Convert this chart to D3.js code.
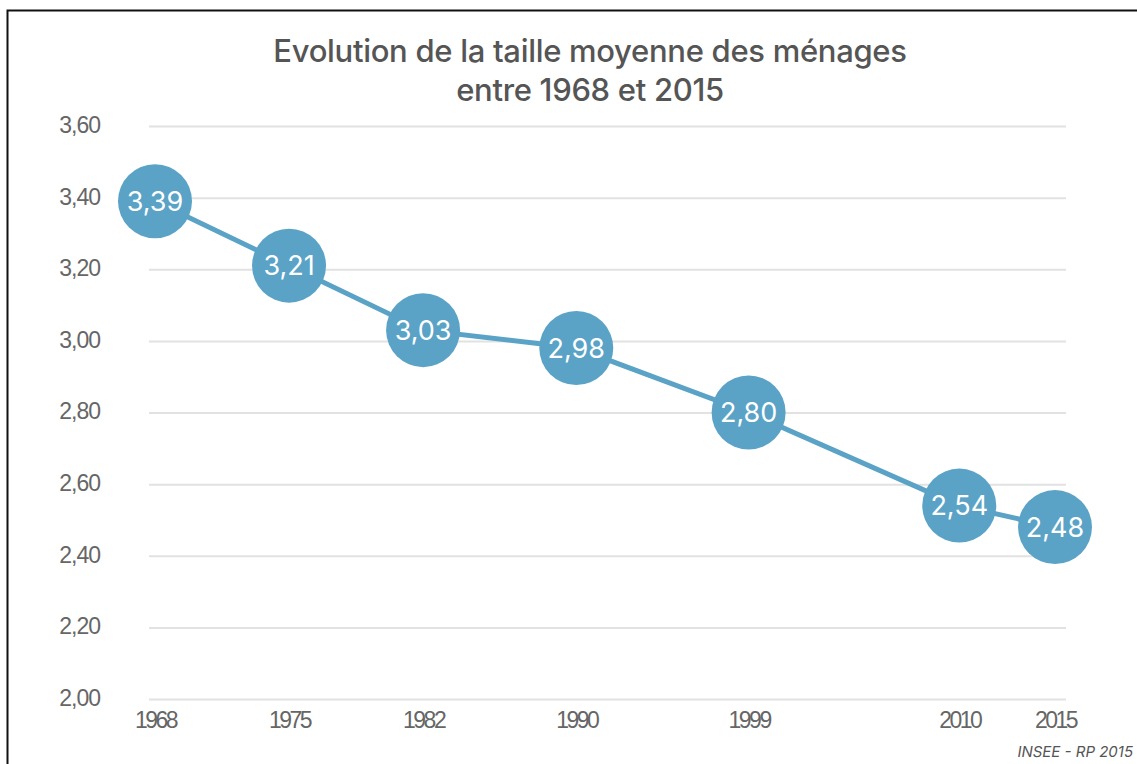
<!DOCTYPE html>
<html>
<head>
<meta charset="utf-8">
<script src="https://cdn.jsdelivr.net/npm/d3@7"></script>
<style>
  body { margin: 0; background: #fff; }
  svg { display: block; font-family: "Inter", "Roboto", sans-serif; }
</style>
</head>
<body>
<svg id="chart" width="1137" height="764"></svg>
<script>
// data
var years = [1968, 1975, 1982, 1990, 1999, 2010, 2015];
var sizes = [3.39, 3.21, 3.03, 2.98, 2.80, 2.54, 2.48];
var yTicks = [2.0, 2.2, 2.4, 2.6, 2.8, 3.0, 3.2, 3.4, 3.6];
var titleLines = ["Evolution de la taille moyenne des ménages", "entre 1968 et 2015"];
var source = "INSEE - RP 2015";

var svg = d3.select("#chart");
var blue = "#5aa3c6";
var fr = function(v) { return v.toFixed(2).replace(".", ","); };

// frame
svg.append("rect").attr("x", 7.5).attr("y", 10.5).attr("width", 1140).attr("height", 770)
  .attr("fill", "none").attr("stroke", "#111").attr("stroke-width", 2);

var x = d3.scaleLinear().domain([1968, 2015]).range([155, 1055]);
var y = d3.scaleLinear().domain([2, 3.6]).range([699, 126]);

// grid + y labels
var yaxis = d3.axisLeft(y).tickValues(yTicks).tickSize(-917).tickFormat(fr).tickPadding(49);
var gy = svg.append("g").attr("transform", "translate(149,0)").call(yaxis);
gy.select(".domain").remove();
gy.selectAll(".tick line").attr("stroke", "#e2e2e2").attr("stroke-width", 2);
gy.selectAll(".tick text").style("font-size", "23px").attr("fill", "#666")
  .attr("letter-spacing", "-1px").attr("dy", "0.28em");

// x labels
var xaxis = d3.axisBottom(x).tickValues(years).tickSize(0).tickFormat(d3.format("d")).tickPadding(13);
var gx = svg.append("g").attr("transform", "translate(0,699)").call(xaxis);
gx.select(".domain").remove();
gx.selectAll(".tick text").style("font-size", "23px").attr("fill", "#666").attr("letter-spacing", "-2.5px");

// title
svg.append("g").selectAll("text").data(titleLines).join("text")
  .attr("x", 590).attr("y", function(d, i) { return 62 + i * 39; })
  .attr("text-anchor", "middle").attr("fill", "#555").attr("font-size", 31).attr("font-weight", 500)
  .attr("letter-spacing", "-0.3px")
  .text(function(d) { return d; });

// line
var pts = years.map(function(yr, i) { return [yr, sizes[i]]; });
svg.append("path").datum(pts)
  .attr("fill", "none").attr("stroke", blue).attr("stroke-width", 5)
  .attr("d", d3.line().x(function(d) { return x(d[0]); }).y(function(d) { return y(d[1]); }));

// bubbles
var dots = svg.append("g").selectAll("g").data(pts).join("g")
  .attr("transform", function(d) { return "translate(" + x(d[0]) + "," + y(d[1]) + ")"; });
dots.append("circle").attr("r", 37).attr("fill", blue);
dots.append("text").attr("text-anchor", "middle").attr("dy", "0.36em")
  .attr("fill", "#fff").attr("font-size", 27).text(function(d) { return fr(d[1]); });

// source
svg.append("text").attr("x", 1133).attr("y", 757).attr("text-anchor", "end")
  .attr("fill", "#555").attr("font-size", 15).attr("font-style", "italic").text(source);
</script>
</body>
</html>
